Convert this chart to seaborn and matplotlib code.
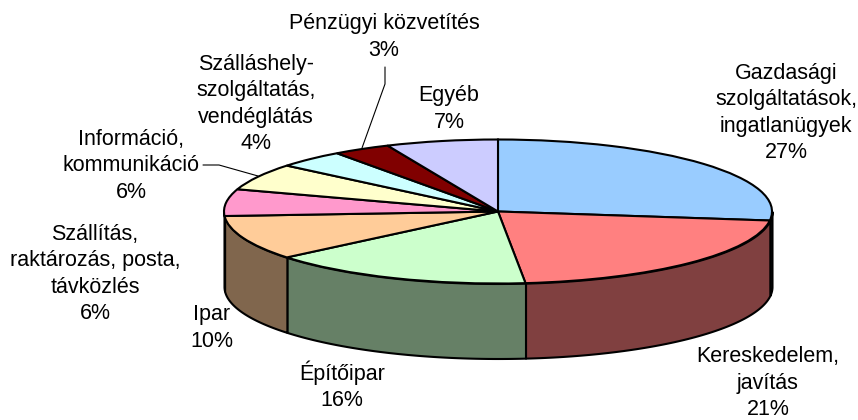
import numpy as np
import matplotlib
matplotlib.use("Agg")
import matplotlib.pyplot as plt
import seaborn as sns

# Shares (slice angles give a bit more than the rounded labels)
names = ["Gazdasági\nszolgáltatások,\ningatlanügyek", "Kereskedelem,\njavítás", "Építőipar", "Ipar",
         "Szállítás,\nraktározás, posta,\ntávközlés", "Információ,\nkommunikáció",
         "Szálláshely-\nszolgáltatás,\nvendéglátás", "Pénzügyi közvetítés", "Egyéb"]
shares = [27, 21.4, 15.6, 10, 6, 6, 4, 3.4, 6.6]
colors = ["#99CCFF", "#FF8080", "#CCFFCC", "#FFCC99", "#FF99CC", "#FFFFCC", "#CCFFFF", "#800000", "#CCCCFF"]

# Label centres in pixels of the 858x420 figure
label_x = [786, 768, 342, 212, 95, 131, 256, 384, 449]
label_y = [113, 383, 386, 328, 274, 166, 104, 37, 109]

sns.set_theme(style="white")
plt.rcParams['font.family'] = ['Liberation Sans', 'DejaVu Sans']

W, H = 858, 420
cx, cy, rx, ry = 498, 211.5, 274, 72
depth = 75 / ry

fig = plt.figure(figsize=(W / 100, H / 100), dpi=100)
ax = fig.add_axes([0, 0, 1, 1])

palette = sns.color_palette(colors)
wedges, _ = ax.pie(shares, colors=palette, startangle=90, counterclock=False,
                   wedgeprops=dict(edgecolor='black', linewidth=1.5, zorder=3))

# Squash the pie into an ellipse
ax.set_aspect('auto')
ax.set_xlim(-cx / rx, (W - cx) / rx)
ax.set_ylim((cy - H) / ry, cy / ry)
ax.set_axis_off()

# Side wall: only the front half of the pie shows
for wedge, col in zip(wedges, palette):
    t1 = max(wedge.theta1, -180)
    t2 = min(wedge.theta2, 0)
    if t1 >= t2:
        continue
    t = np.radians(np.linspace(t1, t2, 80))
    ax.fill_between(np.cos(t), np.sin(t), np.sin(t) - depth,
                    color=np.array(col) * 0.5, edgecolor='black', linewidth=1.5, zorder=2)

for name, share, x, y in zip(names, shares, label_x, label_y):
    fig.text(x / W, 1 - y / H, f"{name}\n{share:.0f}%", ha='center', va='center',
             fontsize=15.5, linespacing=1.33, color='black')

# Leader lines
px = lambda xs, ys: ([(v - cx) / rx for v in xs], [(cy - v) / ry for v in ys])
ax.plot(*px([385, 385, 362], [67, 84, 148]), color='black', lw=0.8, zorder=4)
ax.plot(*px([203, 219, 258], [165, 165, 176]), color='black', lw=0.8, zorder=4)

fig.savefig("out.png", dpi=100, facecolor='white')
